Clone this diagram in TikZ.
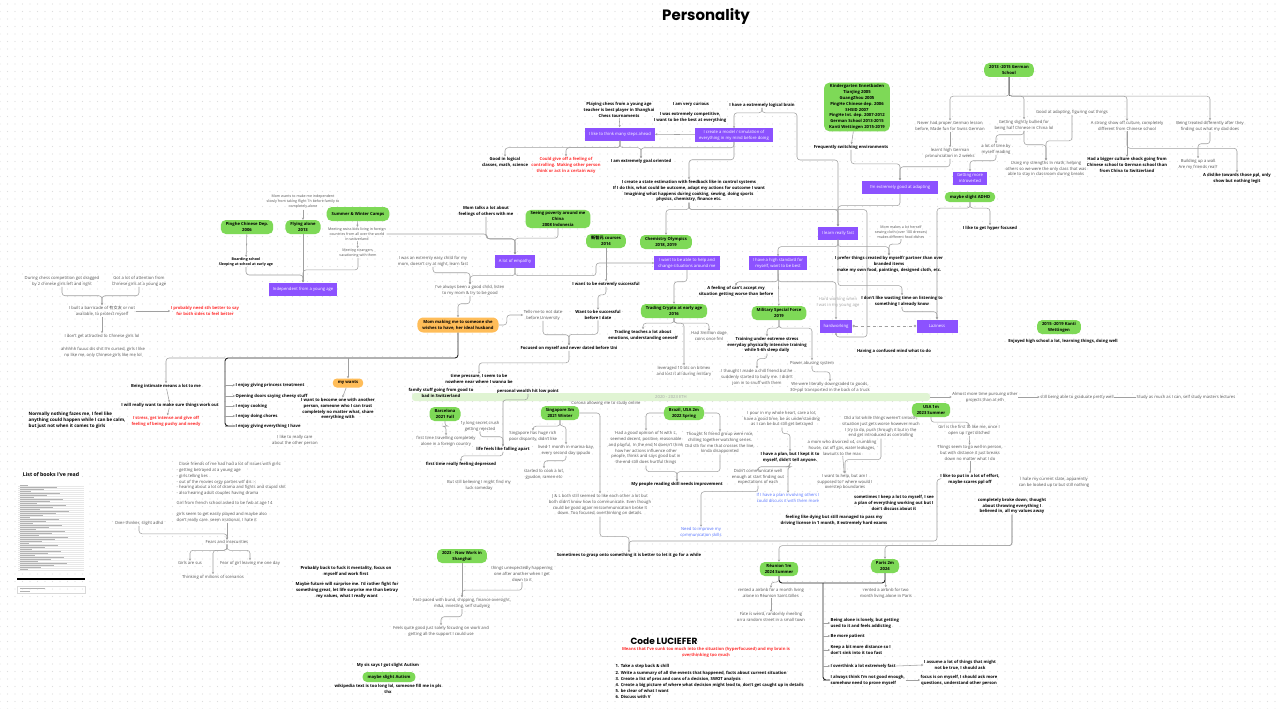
\documentclass[tikz,border=0pt]{standalone}
\usepackage{fontspec}
\setmainfont{Open Sans}
\newfontfamily\headfont{Poppins}
\newfontfamily\cjk{Noto Sans CJK SC}
\usepackage{tikz}
\usetikzlibrary{arrows.meta, patterns.meta}

\definecolor{purp}{HTML}{8C52FF}
\definecolor{grn}{HTML}{7ED957}
\definecolor{orng}{HTML}{FFBD59}
\definecolor{redtxt}{HTML}{FF3131}
\definecolor{bluetxt}{HTML}{5271FF}
\definecolor{graytxt}{HTML}{545454}
\definecolor{fadetxt}{HTML}{A6A6A6}
\definecolor{linegray}{HTML}{A0A0A0}
\definecolor{bandgrn}{HTML}{E0F4D3}
\definecolor{dotgray}{HTML}{DDDDDD}

\newcommand{\mapsize}{\fontsize{4.2}{5.9}\selectfont}

\begin{document}
\begin{tikzpicture}[
    x=1pt, y=-1pt,
    >=Stealth,
    every node/.style={font=\mapsize, align=center, inner sep=0.5pt},
    note/.style={text=graytxt},
    strong/.style={font=\mapsize\bfseries},
    redline/.style={font=\mapsize\bfseries, text=redtxt},
    bluenote/.style={text=bluetxt},
    faded/.style={text=fadetxt},
    smallnote/.style={font=\fontsize{3.6}{5}\selectfont, text=graytxt},
    smallstrong/.style={font=\fontsize{3.6}{5}\selectfont\bfseries},
    idea/.style={fill=purp, text=white, minimum height=13pt, inner xsep=4pt, inner ysep=1.5pt},
    stage/.style={fill=grn, rounded corners=5pt, font=\mapsize\bfseries, minimum height=14pt, inner xsep=5pt, inner ysep=1.5pt},
    tag/.style={fill=grn, rounded corners=4.5pt, font=\mapsize\bfseries, minimum height=10pt, inner xsep=5pt},
    wishbox/.style={fill=orng, rounded corners=6pt, font=\mapsize\bfseries, minimum height=15pt, inner xsep=5pt},
    band/.style={fill=bandgrn, rounded corners=3pt, minimum width=518pt, minimum height=8pt, text=gray!70},
    headline/.style={font=\headfont\fontsize{15}{18}\selectfont\bfseries},
    wire/.style={draw=linegray, line width=0.55pt, rounded corners=3pt, -{Stealth[length=2.2pt,width=2.2pt]}},
    link/.style={draw=linegray, line width=0.55pt, rounded corners=3pt},
    heavy/.style={draw=black!85, line width=0.9pt, rounded corners=3pt}
]

% background
\useasboundingbox (0,0) rectangle (1280,709);
\fill[white] (0,0) rectangle (1280,709);
\fill[pattern={Dots[distance=7.5pt,radius=0.6pt]}, pattern color=dotgray] (0,0) rectangle (1280,709);

\node[headline] (title) at (706,16) {Personality};

% top: thinking
\node[strong] (chess) at (619,110) {Playing chess from a young age\\teacher is best player in Shanghai\\Chess tournaments};
\node[idea] (steps) at (620,134) {I like to think many steps ahead};
\node[strong] (curious) at (691,104) {I am very curious};
\node[strong] (competitive) at (690,117) {I was extremely competitive,\\I want to be the best at everything};
\node[strong] (logical) at (762,105) {I have a extremely logical brain};
\node[idea] (model) at (734,135) {I create a model / simulation of\\everything in my mind before doing};
\node[strong] (goodlogic) at (505,162) {Good in logical\\classes, math, science};
\node[redline] (couldgive) at (566,165) {Could give off a feeling of\\controlling. Making other person\\think or act in a certain way};
\node[strong] (goalor) at (641,161) {I am extremely goal oriented};
\node[strong] (stateest) at (689,191) {I create a state estimation with feedback like in control systems\\If I do this, what could be outcome, adapt my actions for outcome I want\\Imagining what happens during cooking, sewing, doing sports\\physics, chemistry, finance etc.};

% top: environments
\node[stage] (kinder) at (857,107) {Kindergarten Ennetbaden\\TianJing 2005\\GuangZhou 2005\\PingHe Chinese dep. 2006\\SHSID 2007\\PingHe Int. dep. 2007-2012\\German School 2013-2015\\Kanti Wettingen 2015-2019};
\node[strong] (freq) at (851,147) {Frequently switching environments};
\node[idea, minimum width=76pt] (adapting) at (900,187) {I'm extremely good at adapting};
\node[idea] (learnfast) at (838,233) {I learn really fast};

% german school
\node[stage] (german) at (1009,70) {2013 -2015 German\\School};
\node[note] (never) at (950,126) {Never had proper German lesson\\before, Made fun for Swiss German};
\node[note] (learnt) at (950,153) {learnt high German\\pronunciation in 2 weeks};
\node[note] (bullied) at (1024,125) {Getting slightly bullied for\\being half Chinese in China lol};
\node[note] (goodadapt) at (1072,112) {Good at adapting, figuring out things};
\node[note] (reading) at (996,149) {a lot of time by\\myself reading};
\node[idea] (introverted) at (970,178) {Getting more\\introverted};
\node[note] (strengths) at (1046,169) {Using my strengths in math, helping\\others so we were the only class that was\\able to stay in classroom during breaks};
\node[note] (showoff) at (1127,126) {A strong show off culture, completely\\different from Chinese school};
\node[note] (dad) at (1210,126) {Being treated differently after they\\finding out what my dad does};
\node[strong] (shock) at (1127,165) {Had a bigger culture shock going from\\Chinese school to German school than\\from China to Switzerland};
\node[note] (wall) at (1198,164) {Building up a wall\\Are my friends real?};
\node[strong] (dislike) at (1237,178) {A dislike towards those ppl, only\\show but nothing legit};
\node[tag] (adhd) at (970,197) {maybe slight ADHD};
\node[strong] (hyper) at (990,228) {I like to get hyper focused};

% right middle
\node[smallnote] (momsew) at (901,232) {Mom makes a lot herself\\sewing cloth (over 100 dresses)\\makes different food dishes};
\node[strong] (prefer) at (889,264) {I prefer things created by myself/ partner than over\\branded items\\make my own food, paintings, designed cloth, etc.};
\node[strong] (dontlike) at (902,301) {I don't like wasting time on listening to\\something I already know};
\node[faded] (hardyoung) at (838,302) {Hard working when\\I was in my young age};
\node[idea] (hardwork) at (836,326) {hardworking};
\node[idea, minimum width=41pt] (laziness) at (937,326) {Laziness};
\node[strong] (confused) at (894,351) {Having a confused mind what to do};
\node[stage] (kanti) at (1059,327) {2015 -2019 Kanti\\Wettingen};
\node[strong] (enjoyed) at (1063,341) {Enjoyed high school a lot, learning things, doing well};

% middle
\node[stage] (chem) at (666,242) {Chemistry Olympics\\2018, 2019};
\node[idea] (help) at (687,263) {I want to be able to help and\\change situations around me};
\node[idea] (highstd) at (778,263) {I have a high standard for\\myself, want to be best};
\node[stage] (crypto) at (674,311) {Trading Crypto at early age\\2016};
\node[strong] (cantaccept) at (736,291) {A feeling of can't accept my\\situation getting worse than before};
\node[stage] (military) at (779,313) {Military Special Force\\2019};
\node[strong] (training) at (767,345) {Training under extreme stress\\everyday physically intensive training\\while 5-6h sleep daily};
\node[note] (power) at (812,363) {Power abusing system};
\node[note] (downgraded) at (830,387) {We were literally downgraded to goods,\\30+ppl transported in the back of a truck};
\node[note] (chill) at (757,377) {I thought I made a chill friend but he\\suddenly started to bully me.  I didn't\\join in to snuff with them};
\node[strong] (teaches) at (643,335) {Trading teaches a lot about\\emotions, understanding oneself};
\node[note] (doge) at (709,336) {Had 3million doge\\coins once fml};
\node[note] (leveraged) at (684,371) {leveraged 10 btc on bitmex\\and lost it all during military};

% eth years
\node[band] (eth) at (671,397) {2020 - 2023 ETH};
\node[note] (almost) at (985,397) {Almost more time pursuing other\\projects than at eth};
\node[note] (graduate) at (1077,397) {still being able to graduate pretty well};
\node[note] (study) at (1186,397) {Study as much as I can, self study masters lectures};

% left middle
\node[strong] (momtalks) at (486,211) {Mom talks a lot about\\feelings of others with me};
\node[stage] (poverty) at (558,219) {Seeing poverty around me\\China\\2008 Indonesia};
\node[idea] (empathy) at (515,261) {A lot of empathy};
\node[stage] (xinzhi) at (606,241) {{\cjk 新智元} courses\\2014};
\node[strong] (successful) at (606,284) {I want to be extremly successful};
\node[strong] (beforedate) at (598,315) {Want to be successful\\before I date};
\node[note] (tellsme) at (543,315) {Tells me to not date\\before University};
\node[wishbox] (mommaking) at (458,325) {Mom making me to someone she\\wishes to have, her ideal husband};
\node[note] (easychild) at (433,261) {I was an extremly easy child for my\\mom, doesn't cry at night, learn fast};
\node[note] (goodchild) at (470,290) {I've always been a good child, listen\\to my mom \& try to be good};
\node[strong] (focused) at (569,348) {Focused on myself and never dated before Uni};
\node[strong] (timepressure) at (479,379) {time pressure, I seem to be\\nowhere near where I wanna be};
\node[strong] (family) at (441,393) {family stuff going from good to\\bad in Switzerland};
\node[strong] (wealth) at (528,391) {personal wealth hit low point};

% 2021 - 2023 travels
\node[stage] (barcelona) at (445,414) {Barcelona\\2021 Fall};
\node[stage] (singapore) at (560,413) {Singapore 3m\\2021 Winter};
\node[note] (corona) at (606,403) {Corona allowing me to study online};
\node[note] (crush) at (480,426) {1y long secret crush\\getting rejected};
\node[note] (firsttravel) at (446,441) {first time travelling completely\\alone in a foreign country};
\node[strong] (life) at (503,449) {life feels like falling apart};
\node[strong] (depressed) at (461,464) {first time really feeling depressed};
\node[note] (disparity) at (533,436) {Singapore has huge rich\\poor disparity, didn't like};
\node[note] (marina) at (566,450) {lived 1 month in marina bay,\\every second day ippudo};
\node[note] (cook) at (544,474) {started to cook a lot,\\gyudon, ramen etc};
\node[note] (luck) at (479,485) {But still believing I might find my\\luck someday};
\node[note] (jl) at (600,505) {J \& L both still seemed to like each other a lot but\\both didn't know how to communicate. Even though\\could be good again miscommunication broke it\\down. Too focused, overthinking on details.};
\node[stage] (brazil) at (684,413) {Brazil, USA 2m\\2022 Spring};
\node[note] (opinion) at (646,448) {Had a good opinion of N with L,\\seemed decent, positive, reasonable\\and playful. In the end N doesn't think\\how her actions influence other\\people, thinks and says good but in\\the end still does hurtful things};
\node[note] (thoughtn) at (720,443) {Thought N friend group were nice,\\chilling together watching series.\\Did sth for me that crosses the line,\\kinda disappointed};
\node[strong] (peoplereading) at (677,484) {My people reading skill needs improvement};
\node[bluenote] (needcomm) at (701,532) {Need to improve my\\communication skills};
\node[strong] (grasp) at (629,555) {Sometimes to grasp onto something it is better to let it go for a while};
\node[note] (pourheart) at (782,419) {I pour in my whole heart, care a lot,\\have a good time, be as understanding\\as I can be but still get betrayed};
\node[strong] (haveplan) at (790,457) {I have a plan, but I kept it to\\myself, didn't tell anyone.};
\node[note] (didntcomm) at (758,477) {Didn't communicate well\\enough at start finding out\\expectations of each};
\node[bluenote] (ifplan) at (788,498) {If I have a plan involving others I\\could discuss it with them more};
\node[note] (smooth) at (881,427) {Did a lot while things weren't smooth,\\situation just gets worse however much\\I try to do, push through it but in the\\end get introduced as controlling};
\node[note] (mom4x) at (842,448) {a mom who divorced x4, crumbling\\house, cut off gas, water leakages,\\lawsuits to the max};
\node[note] (wanthelp) at (845,482) {I want to help, but am I\\supposed to? where would I\\overstep boundaries};
\node[strong] (keeplot) at (894,503) {sometimes I keep a lot to myself, I see\\a plan of everything working out but I\\don't discuss about it};
\node[strong] (dying) at (834,520) {feeling like dying but still managed to pass my\\driving license in 1 month, 8 extremely hard exams};
\node[stage] (usa) at (931,410) {USA 1m\\2023 Summer};
\node[note] (girlfirst) at (969,430) {Girl is the first to like me, once I\\open up I get ditched};
\node[note] (thingsseem) at (970,453) {Things seem to go well in person,\\but with distance it just breaks\\down no matter what I do};
\node[strong] (likeeffort) at (970,479) {I like to put in a lot of effort,\\maybe scares ppl off};
\node[note] (hate) at (1054,482) {I hate my current state, apparently\\can be looked up to but still nothing};
\node[strong] (brokedown) at (1012,506) {completely broke down, thought\\about throwing everything I\\believed in, all my values away};

% 2024
\node[stage] (reunion) at (779,569) {Réunion 1m\\2024 Summer};
\node[stage] (paris) at (885,566) {Paris 2m\\2024};
\node[note] (rentedR) at (771,593) {rented a airbnb for a month living\\alone in Réunion Saint Gilles};
\node[note] (fate) at (771,617) {Fate is weird, randomly meeting\\on a random street in a small town};
\node[note] (rentedP) at (886,593) {rented a airbnb for two\\month living alone in Paris};
\node[strong, anchor=west, align=left] (alone) at (830,623) {Being alone is lonely, but getting\\used to it and feels addicting};
\node[strong, anchor=west, align=left] (patient) at (830,636) {Be more patient};
\node[strong, anchor=west, align=left] (distance) at (830,650) {Keep a bit more distance so I\\don't sink into it too fast};
\node[strong, anchor=west, align=left] (overthink) at (830,666) {I overthink a lot extremely fast};
\node[strong, anchor=west, align=left] (notgood) at (830,680) {I always think I'm not good enough,\\somehow need to prove myself};
\node[strong] (assume) at (960,665) {I assume a lot of things that might\\not be true, I should ask};
\node[strong] (focusmyself) at (959,680) {focus is on myself, I should ask more\\questions, understand other person};

% code
\node[font=\headfont\fontsize{9}{11}\selectfont\bfseries] (code) at (664,641) {Code LUCIEFER};
\node[redline] (means) at (706,652) {Means that I've sunk too much into the situation (hyperfocused) and my brain is\\overthinking too much};
\node[strong, anchor=north west, align=left, font=\fontsize{4.2}{6.2}\selectfont\bfseries] (plan) at (615,664) {1. Take a step back \& chill\\2. Write a summary of all the events that happened, facts about current situation\\3. Create a list of pros and cons of a decision, SWOT analysis\\4. Create a big picture of where what decision might lead to, don't get caught up in details\\5. be clear of what I want\\6. Discuss with V};

% left: childhood
\node[stage] (pinghe) at (247,227) {Pinghe Chinese Dep.\\2006};
\node[stage] (flying) at (303,227) {Flying alone\\2013};
\node[smallnote] (momwants) at (303,202) {Mom wants to make me independent\\slowly from taking flight 1h before family to\\completely alone};
\node[stage] (camps) at (358,214) {Summer \& Winter Camps};
\node[smallnote] (swisskids) at (357,234) {Meeting swiss kids living in foreign\\countries from all over the world\\in switzerland};
\node[smallnote] (strangers) at (358,253) {Meeting strangers,\\vacationing with them};
\node[smallstrong] (boarding) at (246,262) {Boarding school\\Sleeping at school at early age};
\node[idea] (independent) at (303,289) {Independent from a young age};

% left: girls
\node[note] (chessgirls) at (62,281) {During chess competition got dragged\\by 2 chinese girls left and right};
\node[note] (attention) at (139,281) {Got a lot of attention from\\Chinese girls at a young age};
\node[note] (barricade) at (102,311) {I built a barricade of {\cjk 有女友} or not\\available, to protect myself};
\node[redline] (needsth) at (205,311) {I probably need sth better to say\\for both sides to feel better};
\node[note] (dontattract) at (102,336) {I don't get attracted to Chinese girls lol};
\node[note] (cursed) at (103,352) {ahhhhh fuuuc dis shit I'm cursed, girls I like\\no like me, only Chinese girls like me lol};
\node[strong] (intimate) at (166,386) {Being intimate means a lot to me};
\node[strong] (makesure) at (170,405) {I will really want to make sure things work out};
\node[redline] (stress) at (166,421) {I stress, get intense and give off\\feeling of being pushy and needy};
\node[strong, anchor=west] (princess) at (235,385) {I enjoy giving princess treatment};
\node[strong, anchor=west] (doors) at (235,396) {Opening doors saying cheesy stuff};
\node[strong, anchor=west] (cooking) at (235,406) {I enjoy cooking};
\node[strong, anchor=west] (chores) at (235,416) {I enjoy doing chores};
\node[strong, anchor=west] (everything) at (235,426) {I enjoy giving everything I have};
\node[note] (care) at (295,440) {I like to really care\\about the other person};
\node[wishbox, minimum height=9pt, rounded corners=4pt] (mywants) at (348,383) {my wants};
\node[strong] (becomeone) at (338,409) {I want to become one with another\\person, someone who I can trust\\completely no matter what, share\\everything with};
\node[strong, anchor=west, align=left, font=\fontsize{4.5}{6}\selectfont\bfseries] (nothingfazes) at (28,420) {Normally nothing fazes me, I feel like\\anything could happen while I can be calm,\\but just not when it comes to girls};

% left bottom
\node[strong, font=\fontsize{5.2}{6}\selectfont\bfseries] (books) at (51,475) {List of books I've read};
\node[note, anchor=west, align=left] (closefriends) at (176,479) {\ \ Close friends of me had had a lot of issues with girls:\\- getting betrayed at a young age\\- girls telling lies\\- out of the movies orgy parties wtf dis :-:\\- hearing about a lot of drama and fights and stupid shit\\- also hearing adult couples having drama};
\node[note, anchor=west, align=left] (fwb) at (176,503) {Girl from french school asked to be fwb at age 14};
\node[note, anchor=west, align=left] (girlsseem) at (176,517) {girls seem to get easily played and maybe also\\don't really care. seem irrational. I hate it};
\node[note] (overthinker) at (139,523) {Over-thinker, slight adhd};
\node[note] (fears) at (227,542) {Fears and insecurities};
\node[note] (sus) at (190,563) {Girls are sus};
\node[note] (fearleaving) at (250,563) {Fear of girl leaving me one day};
\node[note] (scenarios) at (213,577) {Thinking of milions of scenarios};
\node[strong] (fuckit) at (346,571) {Probably back to fuck it mentality, focus on\\myself and work first};
\node[strong] (maybefuture) at (347,590) {Maybe future will surprise me. I'd rather fight for\\something great, let life surprise me than betray\\my values, what I really want};
\node[stage] (work) at (462,556) {2023 - Now Work in\\Shanghai};
\node[note] (unexpected) at (522,574) {things unexpectedly happening\\one after another when I get\\down to it};
\node[note] (fastpaced) at (462,603) {Fast-paced with bund, shipping, finance oversight,\\m\&a, investing, self studying};
\node[note] (feelsgood) at (441,631) {Feels quite good just solely focusing on work and\\getting all the support I could use};
\node[strong] (sis) at (388,665) {My sis says I got slight Autism};
\node[tag] (autism) at (389,677) {maybe slight Autism};
\node[strong] (wiki) at (388,689) {wikipedia text is too long lol, someone fill me in pls\\thx};

% book list picture
\fill[white] (17,483) rectangle (85,572);
\foreach \i in {0,...,42}{
  \pgfmathsetmacro\len{8+mod(\i*29,42)}
  \draw[gray!18, line width=0.2pt] (18,486+2*\i) -- (84,486+2*\i);
  \draw[gray!60, line width=0.4pt] (20,485.5+2*\i) -- ++(\len,0);
}
\draw[black, line width=1.3pt] (17,579) -- (85,579);
\draw[gray!30, line width=0.3pt] (17,586) rectangle (85,593);
\draw[gray!60, line width=0.4pt] (20,588) -- (45,588) (20,591) -- (30,591);

% connectors: thinking
\draw[wire] (chess) -- (steps);
\draw[wire] (model) -- (steps);
\draw[wire] (steps.south) -- ++(0,7) -| (goodlogic.north);
\draw[wire] (steps.south) -- ++(0,7) -| (couldgive.north);
\draw[wire] (steps.south) -- ++(0,7) -| (goalor.north);
\draw[wire] (logical.south) -- ++(0,5) -| (model.north);
\draw[wire] (logical.south) -- ++(0,5) -| (797,160) -| (learnfast.north);
\draw[wire] (model.south) -- ++(0,6) -| (goalor.north);
\draw[wire] (model.south) -- ++(0,18) -| (stateest.north);
\draw[wire] (stateest.south) -- ++(0,7) -| (chem.north);
\draw[wire] (stateest.south) -- ++(0,7) -| (learnfast.north);
\draw[wire] (stateest.south) -- ++(0,7) -| (867,337) -| (hardwork.south);

% connectors: environments
\draw[wire] (kinder) -- (freq);
\draw[wire] (freq.south) -- ++(0,14) -| (adapting.north);
\draw[heavy] (german.south) -- ++(0,19);
\draw[wire] (german.south) -- ++(0,19) -| (never.north);
\draw[wire] (never.south) -- ++(0,4) -| (learnt.north);
\draw[wire] (learnt.south) -- ++(0,8) -| (adapting.north);
\draw[wire] (german.south) -- ++(0,19) -| (bullied.north);
\draw[wire] (german.south) -- ++(0,19) -| (showoff.north);
\draw[wire] (german.south) -- ++(0,19) -| (dad.north);
\draw[wire] (bullied.south) -- ++(0,4) -| (reading.north);
\draw[wire] (reading.south) -- ++(0,6) -| (introverted.north);
\draw[wire] (bullied.south) -- ++(0,14) -| (strengths.north);
\draw[wire] (goodadapt.south) -- ++(0,26) -| (strengths.north);
\draw[wire] (showoff) -- (shock);
\draw[wire] (showoff.south) -- ++(0,17) -| (dislike.north);
\draw[wire] (dad.south) -- ++(0,12) -| (wall.north);
\draw[wire] (adapting.south) -- ++(0,12) -| (learnfast.north);
\draw[wire] (adhd.south) -- ++(0,6) -| (hyper.north);
\draw[wire] (adhd.south) -- ++(0,6) -| (laziness.north);
\draw[wire] (learnfast.south) -- ++(0,7) -| (prefer.north);
\draw[wire] (momsew.south) -- ++(0,5) -| (prefer.north);
\draw[wire] (learnfast.south) -- ++(0,7) -| (highstd.north);
\draw[wire] (learnfast.south) -- ++(0,46) -| (dontlike.north);
\draw[wire] (dontlike.south) -- ++(0,5) -| (laziness.north);
\draw[wire] (highstd.south) -- ++(0,12) -| (hardwork.north);
\draw[link, dashed, {Circle[open,length=2.5pt]}-{Circle[open,length=2.5pt]}] (hardwork.east) -- (laziness.west);

% connectors: middle
\draw[wire] (empathy.south) -- ++(0,8) -| (596,263) -- (help.west);
\draw[wire] (help.south) -- ++(0,12) -| (crypto.north);
\draw[wire] (highstd.south) -- ++(0,12) -| (cantaccept.north);
\draw[wire] (highstd) -- (military);
\draw[wire] (military.south) -- ++(0,8) -| (training.north);
\draw[wire] (military.south) -- ++(0,8) -| (power.north);
\draw[wire] (power.south) -- ++(0,6) -| (downgraded.north);
\draw[wire] (training.south) -- ++(0,5) -| (chill.north);
\draw[wire] (crypto.south) -- ++(0,5) -| (teaches.north);
\draw[wire] (crypto.south) -- ++(0,5) -| (doge.north);
\draw[wire] (crypto.south) -- ++(0,5) -| (leveraged.north);
\draw[wire] (eth.east) -- (almost.west);
\draw[wire] (almost.east) -- (graduate.west);
\draw[link] (graduate.east) -- (study.west);

% connectors: family
\draw[wire] (momtalks.south) -- ++(0,22) -| (empathy.north);
\draw[wire] (poverty.south) -- ++(0,10) -| (empathy.north);
\draw[wire] (swisskids.east) -| (487,239) -| (empathy.north);
\draw[wire] (xinzhi) -- (successful);
\draw[wire] (successful.south) -- ++(0,8) -| (beforedate.north);
\draw[wire] (easychild.south) -- ++(0,6) -| (goodchild.north);
\draw[wire] (empathy.south) -- ++(0,8) -| (goodchild.north);
\draw[wire] (goodchild.south) -- ++(0,8) -| (mommaking.north);
\draw[wire] (mommaking.east) -- ++(8,0) |- (tellsme.west);
\draw[wire] (tellsme.south) -- ++(0,14) -| (focused.north);
\draw[wire] (beforedate.south) -- ++(0,14) -| (focused.north);
\draw[wire] (focused.south) -- ++(0,12) -| (timepressure.north);
\coordinate (spine) at (225,358);
\draw[heavy] (mommaking.south) |- (spine) |- (everything.west);
\foreach \e in {princess,doors,cooking,chores,everything}
  \draw[wire] (spine |- \e.west) -- (\e.west);
\draw[wire] (mywants.north |- spine) -- (mywants.north);
\draw[wire] (spine) -| (intimate.north);
\draw[wire] (intimate) -- (makesure);
\draw[wire] (makesure) -- (stress);
\draw[wire] (mywants) -- (becomeone);

% connectors: childhood
\draw[wire] (momwants) -- (flying);
\draw[wire] (pinghe) -- (boarding);
\draw[wire] (boarding.south) -- ++(0,8) -| (independent.north);
\draw[wire] (flying) -- (independent);
\draw[wire] (camps) -- (swisskids);
\draw[wire] (swisskids) -- (strangers);
\draw[wire] (strangers.south) -- ++(0,12) -| (independent.north);
\draw[wire] (chessgirls.south) -- ++(0,9) -| (barricade.north);
\draw[wire] (attention.south) -- ++(0,9) -| (barricade.north);
\draw[wire] (barricade.east) -- (needsth.west);
\draw[wire] (barricade) -- (dontattract);
\draw[wire] (overthinker.south) -- ++(0,8) -| (fears.north);
\draw[wire] (fears.north |- girlsseem.south) -- (fears.north);
\draw[wire] (fears.south) -- ++(0,6) -| (sus.north);
\draw[wire] (fears.south) -- ++(0,6) -| (fearleaving.north);
\draw[wire] (fears.south) -- ++(0,6) -| (scenarios.north);
\draw[wire] (work) -- (fastpaced);
\draw[wire] (unexpected.south) -- ++(0,8) -| (fastpaced.north);
\draw[wire] (fastpaced.south) -- ++(0,8) -| (feelsgood.north);

% connectors: travels
\draw[wire] (barcelona.south) -- ++(0,5) -| (firsttravel.north);
\draw[wire] (wealth.south) -- ++(0,6) -| (life.north);
\draw[wire] (crush.south) -- ++(0,5) -| (life.north);
\draw[wire] (life.south) -- ++(0,4) -| (depressed.north);
\draw[wire] (singapore.south) -- ++(0,6) -| (disparity.north);
\draw[wire] (singapore.south) -- ++(0,6) -| (marina.north);
\draw[wire] (marina.south) -- ++(0,5) -| (cook.north);
\draw[wire] (singapore.east) -| (jl.north);
\draw[wire] (jl.south) -- ++(0,20) -| (grasp.north);
\draw[wire] (brazil.west) -| (opinion.north);
\draw[wire] (brazil.east) -| (thoughtn.north);
\draw[wire] (opinion.south) -- ++(0,6) -| (peoplereading.north);
\draw[wire] (thoughtn.south) -- ++(0,17) -| (peoplereading.north);
\draw[wire] (pourheart.south) -- ++(0,6) -| (haveplan.north);
\draw[wire] (haveplan.south) -- ++(0,4) -| (didntcomm.north);
\draw[wire] (haveplan.south) -- ++(0,4) -| (ifplan.north);
\draw[wire] (didntcomm.south) -- ++(0,6) -| (needcomm.north);
\draw[wire] (smooth.south) -- ++(0,21) -| (wanthelp.north);
\draw[wire] (mom4x) -- (wanthelp);
\draw[wire] (usa.south) -- ++(0,5) -| (girlfirst.north);
\draw[wire] (girlfirst) -- (thingsseem);
\draw[wire] (thingsseem) -- (likeeffort);
\draw[wire] (likeeffort.west) -| (937,541) -| (grasp.north);
\draw[wire] (brokedown.south) -- ++(0,31) -| (reunion.north);
\draw[wire] (brokedown.south) -- ++(0,31) -| (paris.north);

% connectors: 2024
\coordinate (hub) at (823,583);
\draw[heavy] (reunion.south) |- (hub);
\draw[heavy] (paris.south) |- (hub);
\draw[heavy] (hub) |- (notgood.west);
\foreach \e in {alone,patient,distance,overthink,notgood}
  \draw[wire] (hub |- \e.west) -- (\e.west);
\draw[wire] (reunion.south) -- ++(0,6) -| (rentedR.north);
\draw[wire] (rentedR) -- (fate);
\draw[wire] (paris) -- (rentedP);
\draw[wire] (overthink.east) -- (assume.west);
\draw[wire] (notgood.east) -- (focusmyself.west);
\end{tikzpicture}
\end{document}
